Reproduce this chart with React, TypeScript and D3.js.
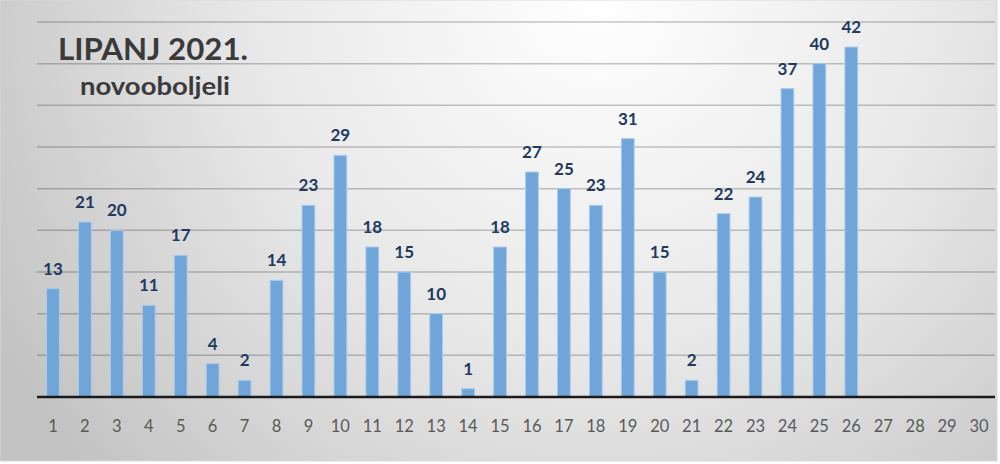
import React, { useEffect, useRef } from "react";
import * as d3 from "d3";

const days = d3.range(1, 31).map(String);
const cases = [13, 21, 20, 11, 17, 4, 2, 14, 23, 29, 18, 15, 10, 1, 18, 27, 25, 23, 31, 15, 2, 22, 24, 37, 40, 42];
const gridTicks = [5, 10, 15, 20, 25, 30, 35, 40, 45];
const title = "LIPANJ 2021.";
const subtitle = "novooboljeli";

const App = () => {
  const ref = useRef<SVGSVGElement | null>(null);

  useEffect(() => {
    const width = 1000;
    const height = 464;
    const margin = { top: 22, right: 5, bottom: 67, left: 37 };
    const plotW = 958;
    const baseY = 397;
    const font = "Lato, 'Open Sans', sans-serif";

    const svg = d3.select(ref.current);
    svg.selectAll("*").remove();

    // background gradient, white at top centre, grey to edges
    const defs = svg.append("defs");
    const grad = defs
      .append("radialGradient")
      .attr("id", "bg")
      .attr("cx", "0.6")
      .attr("cy", "0.0")
      .attr("r", "0.7")
      .attr("gradientTransform", "translate(0.6,0) scale(1,2.2) translate(-0.6,0)");
    grad.append("stop").attr("offset", "0%").attr("stop-color", "#ffffff");
    grad.append("stop").attr("offset", "50%").attr("stop-color", "#e8e8e8");
    grad.append("stop").attr("offset", "100%").attr("stop-color", "#c2c2c2");

    svg.append("rect").attr("x", 0).attr("y", 0).attr("width", width).attr("height", height).attr("fill", "#ffffff");
    svg
      .append("rect")
      .attr("x", 0)
      .attr("y", 0)
      .attr("width", 997)
      .attr("height", 461)
      .attr("fill", "url(#bg)")
      .attr("stroke", "#d9d9d9")
      .attr("stroke-width", 1);

    const x = d3
      .scaleBand()
      .domain(days)
      .range([margin.left, margin.left + plotW])
      .paddingInner(0.6)
      .paddingOuter(0.3);

    const y = d3.scaleLinear().domain([0, 45]).range([baseY, margin.top]);

    // gridlines
    svg
      .append("g")
      .selectAll("line")
      .data(gridTicks)
      .enter()
      .append("line")
      .attr("x1", margin.left)
      .attr("x2", margin.left + plotW)
      .attr("y1", (d) => y(d))
      .attr("y2", (d) => y(d))
      .attr("stroke", "#000000")
      .attr("stroke-opacity", 0.22)
      .attr("stroke-width", 1.5);

    // bars
    svg
      .append("g")
      .selectAll("rect")
      .data(cases)
      .enter()
      .append("rect")
      .attr("x", (d, i) => x(days[i]) as number)
      .attr("y", (d) => y(d))
      .attr("width", x.bandwidth())
      .attr("height", (d) => baseY - y(d))
      .attr("fill", "#6fa5d9")
      .attr("stroke", "#a9cbeb")
      .attr("stroke-width", 1);

    // value labels
    svg
      .append("g")
      .selectAll("text")
      .data(cases)
      .enter()
      .append("text")
      .attr("x", (d, i) => (x(days[i]) as number) + x.bandwidth() / 2)
      .attr("y", (d) => y(d) - 14)
      .attr("text-anchor", "middle")
      .attr("font-family", font)
      .attr("font-weight", "bold")
      .attr("font-size", 17)
      .attr("fill", "#203a5f")
      .text((d) => d);

    // x axis
    svg
      .append("line")
      .attr("x1", margin.left)
      .attr("x2", margin.left + plotW)
      .attr("y1", baseY)
      .attr("y2", baseY)
      .attr("stroke", "#1a1a1a")
      .attr("stroke-width", 2.5);

    svg
      .append("g")
      .selectAll("text")
      .data(days)
      .enter()
      .append("text")
      .attr("x", (d) => (x(d) as number) + x.bandwidth() / 2)
      .attr("y", 432)
      .attr("text-anchor", "middle")
      .attr("font-family", font)
      .attr("font-size", 16.5)
      .attr("fill", "#595959")
      .text((d) => d);

    // title
    svg
      .append("text")
      .attr("x", 153)
      .attr("y", 60)
      .attr("text-anchor", "middle")
      .attr("font-family", font)
      .attr("font-weight", "bold")
      .attr("font-size", 31)
      .attr("textLength", 190)
      .attr("lengthAdjust", "spacingAndGlyphs")
      .attr("fill", "#3a3a3a")
      .text(title);

    svg
      .append("text")
      .attr("x", 155)
      .attr("y", 95)
      .attr("text-anchor", "middle")
      .attr("font-family", font)
      .attr("font-weight", "bold")
      .attr("font-size", 25)
      .attr("textLength", 150)
      .attr("lengthAdjust", "spacingAndGlyphs")
      .attr("fill", "#3a3a3a")
      .text(subtitle);
  }, []);

  return (
    <svg
      ref={ref}
      width={1000}
      height={464}
      style={{ position: "absolute", top: 0, left: 0, display: "block" }}
    />
  );
};

export default App;
